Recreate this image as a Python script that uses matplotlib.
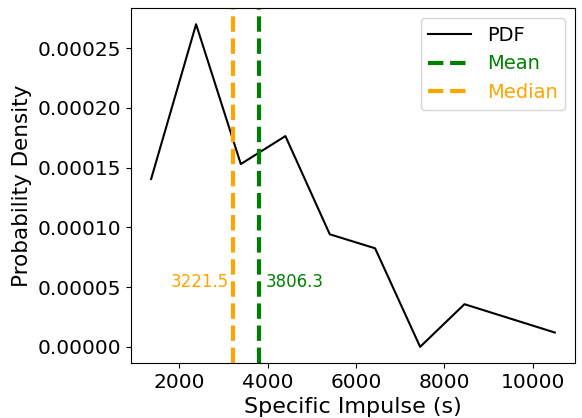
import numpy as np
import matplotlib.pyplot as plt

isp = [1360, 2378, 3391, 4401, 5406, 6432, 7452, 8456, 10503]
density = [0.0001405, 0.000270, 0.000153, 0.0001764, 0.0000942, 0.0000825, 0.0, 0.0000357, 0.000012]
mean_isp = 3806.3
median_isp = 3221.5

fig = plt.figure(figsize=(5.82, 4.18), dpi=100)
ax = fig.add_axes([0.225, 0.1316, 0.763, 0.849])

ax.plot(isp, density, color='black', lw=1.5, label='PDF')
ax.axvline(mean_isp, color='green', ls='--', lw=3, label='Mean')
ax.axvline(median_isp, color='orange', ls='--', lw=3, label='Median')

ty = 0.2 * max(density)
ax.text(mean_isp + 150, ty, f'{mean_isp:.1f}', color='green', fontsize=12, ha='left', va='center')
ax.text(median_isp - 100, ty, f'{median_isp:.1f}', color='orange', fontsize=12, ha='right', va='center')

ax.set_xlabel('Specific Impulse (s)', fontsize=16)
ax.set_ylabel('Probability Density', fontsize=15.5)
ax.tick_params(labelsize=14.5)
ax.set_xticks([2000, 4000, 6000, 8000, 10000])
ax.yaxis.set_major_formatter(plt.FormatStrFormatter('%.5f'))

leg = ax.legend(loc='upper right', fontsize=14, handlelength=2.2)
for t, h in zip(leg.get_texts(), leg.get_lines()):
    t.set_color(h.get_color())

fig.savefig('out.png', dpi=100)
